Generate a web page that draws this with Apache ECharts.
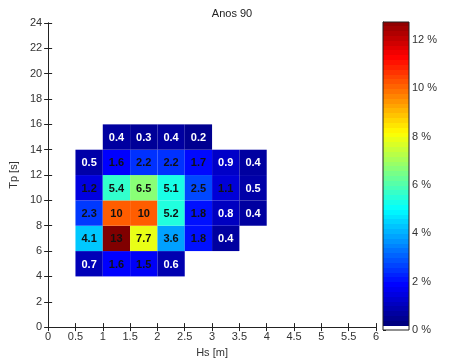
<!DOCTYPE html>
<html><head><meta charset="utf-8">
<script src="https://cdn.jsdelivr.net/npm/echarts@6/dist/echarts.min.js"></script>
<style>html,body{margin:0;padding:0;background:#fff}#c{width:454px;height:363px}</style>
</head><body><div id="c"></div>
<script>
// Data
const title = 'Anos 90';
const hsEdges = [0.5, 1, 1.5, 2, 2.5, 3, 3.5];   // column left edges [m], width 0.5
const tpEdges = [4, 6, 8, 10, 12, 14];            // row lower edges [s], height 2
const freq = [                                     // % occurrence, rows = tpEdges
  [0.7, 1.6, 1.5, 0.6, null, null, null],
  [4.1, 13, 7.7, 3.6, 1.8, 0.4, null],
  [2.3, 10, 10, 5.2, 1.8, 0.8, 0.4],
  [1.2, 5.4, 6.5, 5.1, 2.5, 1.1, 0.5],
  [0.5, 1.6, 2.2, 2.2, 1.7, 0.9, 0.4],
  [null, 0.4, 0.3, 0.4, 0.2, null, null]
];
const hsWidth = 0.5, tpHeight = 2;
const cmax = 12.75;

const cells = [];
tpEdges.forEach((tp, r) => hsEdges.forEach((hs, c) => {
  const v = freq[r][c];
  if (v !== null) cells.push([hs, tp, v]);
}));

function jet(t) {
  t = Math.max(0, Math.min(1, t));
  const cl = x => Math.round(255 * Math.max(0, Math.min(1, x)));
  return 'rgb(' + cl(1.5 - Math.abs(4*t - 3)) + ',' + cl(1.5 - Math.abs(4*t - 2)) + ',' + cl(1.5 - Math.abs(4*t - 1)) + ')';
}
const font = 'Liberation Sans, Arial, sans-serif';
const txt = '#333';
const axLine = {show: true, lineStyle: {color: '#222', width: 1}};

const chart = echarts.init(document.getElementById('c'), null, {renderer: 'canvas'});
const stops = [{offset: 0, color: '#fff'}, {offset: 1/64, color: '#fff'}];
for (let i = 1; i < 64; i++) {
  stops.push({offset: i/64, color: jet((i-1)/63)});
  stops.push({offset: (i+1)/64, color: jet((i-1)/63)});
}
chart.setOption({
  animation: false,
  backgroundColor: '#fff',
  textStyle: {fontFamily: font},
  title: {text: title, left: 227, top: 3, textAlign: 'center',
    textStyle: {fontSize: 11, fontWeight: 'normal', color: '#222', fontFamily: font}},
  grid: [
    {left: 45, right: 78, top: 23, bottom: 32},
    {left: 383, width: 26, top: 22, bottom: 33}
  ],
  xAxis: [
    {type: 'value', gridIndex: 0, min: 0, max: 6, interval: 0.5, position: 'bottom',
     name: 'Hs [m]', nameLocation: 'middle', nameGap: 19,
     nameTextStyle: {fontSize: 11, color: txt, fontFamily: font},
     axisLine: axLine, axisTick: {inside: true, length: 4, lineStyle: {color: '#222'}},
     axisLabel: {fontSize: 11, color: txt, margin: 4, fontFamily: font}, splitLine: {show: false}},
    {type: 'value', gridIndex: 0, min: 0, max: 6, interval: 0.5, position: 'top',
     axisLine: axLine, axisTick: {inside: true, length: 4, lineStyle: {color: '#222'}},
     axisLabel: {show: false}, splitLine: {show: false}},
    {type: 'value', gridIndex: 1, min: 0, max: 1, show: false}
  ],
  yAxis: [
    {type: 'value', gridIndex: 0, min: 0, max: 24, interval: 2, position: 'left',
     name: 'Tp [s]', nameLocation: 'middle', nameGap: 25, nameRotate: 90,
     nameTextStyle: {fontSize: 11, color: txt, fontFamily: font},
     axisLine: axLine, axisTick: {inside: true, length: 4, lineStyle: {color: '#222'}},
     axisLabel: {fontSize: 11, color: txt, margin: 6, fontFamily: font}, splitLine: {show: false}},
    {type: 'value', gridIndex: 0, min: 0, max: 24, interval: 2, position: 'right',
     axisLine: axLine, axisTick: {inside: true, length: 4, lineStyle: {color: '#222'}},
     axisLabel: {show: false}, splitLine: {show: false}},
    {type: 'value', gridIndex: 1, min: 0, max: cmax, interval: 2, position: 'right',
     axisLine: axLine, axisTick: {inside: false, length: 3, lineStyle: {color: '#222'}},
     axisLabel: {fontSize: 11, color: txt, margin: 3, fontFamily: font, formatter: '{value} %',
                 showMaxLabel: false},
     splitLine: {show: false}}
  ],
  series: [
    {
      type: 'custom', xAxisIndex: 0, yAxisIndex: 0, data: cells,
      renderItem: function (params, api) {
        const hs = api.value(0), tp = api.value(1), v = api.value(2);
        const p0 = api.coord([hs, tp + tpHeight]);
        const p1 = api.coord([hs + hsWidth, tp]);
        const label = v >= 9.95 ? v.toFixed(0) : v.toFixed(1);
        return {
          type: 'group',
          children: [
            {type: 'rect', shape: {x: p0[0], y: p0[1], width: p1[0] - p0[0], height: p1[1] - p0[1]},
             style: {fill: jet(v / cmax)}},
            {type: 'text', x: (p0[0] + p1[0]) / 2, y: (p0[1] + p1[1]) / 2 + 1,
             style: {text: label, fill: v >= 1 ? '#111' : '#fff', font: 'bold 11px ' + font,
                     align: 'center', verticalAlign: 'middle'}}
          ]
        };
      }
    },
    {
      type: 'custom', xAxisIndex: 2, yAxisIndex: 2, data: [[0, 0]],
      renderItem: function (params, api) {
        const a = api.coord([0, cmax]);
        const b = api.coord([1, 0]);
        return {
          type: 'rect', shape: {x: a[0], y: a[1], width: b[0] - a[0], height: b[1] - a[1]},
          style: {fill: new echarts.graphic.LinearGradient(0, 1, 0, 0, stops), stroke: '#222', lineWidth: 1}
        };
      }
    }
  ]
});
</script></body></html>
